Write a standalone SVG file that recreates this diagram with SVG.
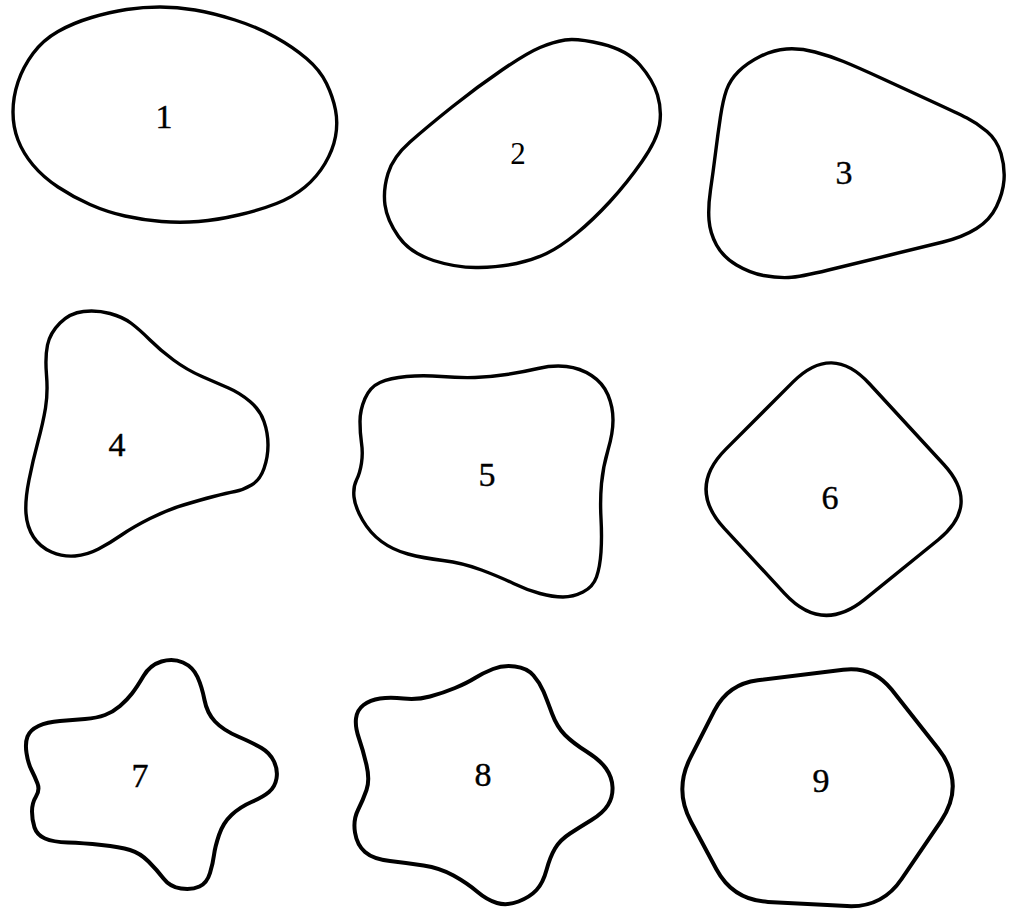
<svg xmlns="http://www.w3.org/2000/svg" width="1014" height="909" viewBox="0 0 1014 909">
<style>
.s{fill:none;stroke:#000;stroke-width:3.4;stroke-linejoin:round}
.t{stroke-width:4}
.l{font-family:'Liberation Serif',serif;font-size:34px;fill:#000;stroke:#000;stroke-width:0.4;text-anchor:middle}
</style>
<rect width="1014" height="909" fill="#fff"/>
<g id="shape1">
<path class="s" d="M160,7 Q143,7 126.5,9.5 Q110,12 91.5,17.5 Q73,23 58,31.5 Q43,40 33,53.5 Q23,67 18,82 Q13,97 13,112 Q13,127 18,140 Q23,153 33,165 Q43,177 58,187 Q73,197 90,204.5 Q107,212 125,216 Q143,220 161.5,221.5 Q180,223 198.5,221.5 Q217,220 238.5,215 Q260,210 276.5,203.5 Q293,197 305,187 Q317,177 325,163.5 Q333,150 335.5,136.5 Q338,123 335.5,110 Q333,97 326.5,83.5 Q320,70 306.5,58.5 Q293,47 275,37 Q257,27 235,20 Q213,13 195,10 Q177,7 160,7 Z"/>
<text class="l" x="164" y="128">1</text>
</g>
<g id="shape2">
<path class="s" d="M540,47.5 Q553,42 565,40 Q577,38 602,44 Q627,50 640,65 Q653,80 657.5,95 Q662,110 659.5,125 Q657,140 642,161.5 Q627,183 610,201.5 Q593,220 576.5,233.5 Q560,247 546.5,253.5 Q533,260 516.5,263.5 Q500,267 478.5,267.5 Q457,268 433.5,260.5 Q410,253 398.5,236.5 Q387,220 385,205 Q383,190 388,173.5 Q393,157 410,142 Q427,127 452,107 Q477,87 502,70 Q527,53 540,47.5 Z"/>
<text class="l" x="518" y="164" style="font-size:31px;stroke-width:0">2</text>
</g>
<g id="shape3">
<path class="s" d="M760,56.5 Q773,50 786.5,49 Q800,48 815,52 Q830,56 843.5,61.5 Q857,67 882,78.5 Q907,90 932,101.5 Q957,113 967,118 Q977,123 987,131.5 Q997,140 1001,153.5 Q1005,167 1004,180 Q1003,193 996.5,206.5 Q990,220 976.5,228.5 Q963,237 943,242 Q923,247 890,255 Q857,263 828.5,270 Q800,277 788.5,277.5 Q777,278 763.5,275.5 Q750,273 736.5,265 Q723,257 716.5,245 Q710,233 709,220 Q708,207 710.5,190 Q713,173 715.5,153 Q718,133 720.5,116.5 Q723,100 726.5,90 Q730,80 738.5,71.5 Q747,63 760,56.5 Z"/>
<text class="l" x="844" y="184">3</text>
</g>
<g id="shape4">
<path class="s" d="M60,323 Q70,313 83.5,311.5 Q97,310 110,313.5 Q123,317 131.5,323.5 Q140,330 150,340 Q160,350 173.5,360 Q187,370 202,376.5 Q217,383 228.5,388 Q240,393 250,401.5 Q260,410 264,421.5 Q268,433 268,445 Q268,457 264,468.5 Q260,480 251.5,485 Q243,490 235,491.5 Q227,493 213.5,496.5 Q200,500 183.5,505 Q167,510 150,518.5 Q133,527 121.5,535 Q110,543 98.5,549 Q87,555 75,556 Q63,557 51.5,552 Q40,547 33.5,537 Q27,527 26,513.5 Q25,500 29,480 Q33,460 38,441.5 Q43,423 45.5,408 Q48,393 46.5,375 Q45,357 47.5,345 Q50,333 60,323 Z"/>
<text class="l" x="117" y="456">4</text>
</g>
<g id="shape5">
<path class="s" d="M380,382.5 Q390,378 406.5,376.5 Q423,375 441.5,376.5 Q460,378 475,377.5 Q490,377 506.5,374.5 Q523,372 538,368.5 Q553,365 566.5,366.5 Q580,368 591.5,375.5 Q603,383 608,395 Q613,407 613,420 Q613,433 608,450 Q603,467 601.5,483.5 Q600,500 601,518.5 Q602,537 601,552 Q600,567 596.5,577 Q593,587 583,592 Q573,597 563,597 Q553,597 540,593.5 Q527,590 513.5,583.5 Q500,577 481.5,570 Q463,563 443,560.5 Q423,558 408,554 Q393,550 381.5,541.5 Q370,533 362.5,520 Q355,507 354,497 Q353,487 356.5,480 Q360,473 361.5,463 Q363,453 361.5,443 Q360,433 360,421.5 Q360,410 365,398.5 Q370,387 380,382.5 Z"/>
<text class="l" x="487" y="486">5</text>
</g>
<g id="shape6">
<path class="s" d="M869.2,383.5 L943.8,464.5 Q981,505 938.3,539.7 L864.7,599.4 Q822,634 784.7,593.6 L724.3,528.4 Q687,488 725.9,449.1 L793.1,381.9 Q832,343 869.2,383.5 Z"/>
<text class="l" x="830" y="509">6</text>
</g>
<g id="shape7">
<path class="s t" d="M132,693.5 Q137,687 143.5,676 Q150,665 161.5,661.5 Q173,658 183,662.5 Q193,667 197.5,677 Q202,687 204.5,700 Q207,713 215,721.5 Q223,730 238,736.5 Q253,743 261.5,748 Q270,753 274,761.5 Q278,770 276.5,778.5 Q275,787 269,792 Q263,797 251.5,802 Q240,807 231.5,815 Q223,823 219,835 Q215,847 214,855 Q213,863 210,873 Q207,883 199.5,886.5 Q192,890 181,888.5 Q170,887 163.5,878.5 Q157,870 148.5,861.5 Q140,853 130,850 Q120,847 101.5,845 Q83,843 68,842.5 Q53,842 45,838.5 Q37,835 34.5,827.5 Q32,820 32,811.5 Q32,803 36,796.5 Q40,790 37.5,783.5 Q35,777 31.5,770 Q28,763 26.5,753 Q25,743 27.5,736.5 Q30,730 38.5,726 Q47,722 60,721 Q73,720 85,719 Q97,718 105,715 Q113,712 120,706 Q127,700 132,693.5 Z"/>
<text class="l" x="140" y="787">7</text>
</g>
<g id="shape8">
<path class="s t" d="M475,678 Q483,673 493,669 Q503,665 515,666.5 Q527,668 533.5,675.5 Q540,683 543.5,691.5 Q547,700 552,713.5 Q557,727 565,735 Q573,743 586.5,751.5 Q600,760 606,768.5 Q612,777 612.5,787 Q613,797 608,805 Q603,813 591.5,820 Q580,827 570,833.5 Q560,840 555,848.5 Q550,857 546.5,870 Q543,883 536.5,890 Q530,897 518.5,901.5 Q507,906 497,903 Q487,900 477,891.5 Q467,883 453.5,875.5 Q440,868 423.5,865.5 Q407,863 390,861 Q373,859 365,852 Q357,845 355,832.5 Q353,820 358,810 Q363,800 366.5,790 Q370,780 366.5,765 Q363,750 359,738.5 Q355,727 356,718.5 Q357,710 363.5,705 Q370,700 380,698.5 Q390,697 403.5,698.5 Q417,700 430,696.5 Q443,693 455,688 Q467,683 475,678 Z"/>
<text class="l" x="483" y="786">8</text>
</g>
<g id="shape9">
<path class="s t" d="M690.3,757.9 L714.4,710.7 Q728,684 757.8,680.3 L843.2,669.7 Q873,666 891.6,689.6 L938.1,748.6 Q966,784 940.8,821.3 L901.6,879 Q882,908 847,906.1 L768,901.9 Q733,900 716.4,869.2 L691,821.7 Q674,790 690.3,757.9 Z"/>
<text class="l" x="821" y="792">9</text>
</g>
<g id="connectors"/>
</svg>
